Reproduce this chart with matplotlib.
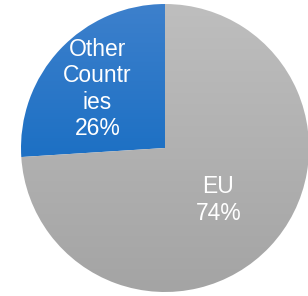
import numpy as np
import matplotlib.pyplot as plt
from matplotlib.colors import LinearSegmentedColormap

plt.rcParams['font.family'] = ['Liberation Sans', 'DejaVu Sans']

labels = ['Other\nCountr\nies', 'EU']
shares = [26, 74]
label_pos = [(-0.47, 0.41), (0.37, -0.36)]
grad_colors = [('#0062bd', '#3d80cc'), ('#a4a4a4', '#bebebe')]

W, H = 308, 296
fig = plt.figure(figsize=(W / 100, H / 100), dpi=100)

# circle centre (165, 148) px, radius 144 px
cx, cy, r = 165, 148, 144
ax = fig.add_axes([(cx - r) / W, (H - cy - r) / H, 2 * r / W, 2 * r / H])
ax.set_xlim(-1, 1)
ax.set_ylim(-1, 1)
ax.axis('off')

wedges, _ = ax.pie(shares, startangle=90, counterclock=True, radius=1,
                   center=(0, 0), frame=True,
                   wedgeprops=dict(linewidth=0, alpha=0))

# vertical gradient inside each wedge
grad = np.linspace(0, 1, 256).reshape(-1, 1)
for w, (c0, c1) in zip(wedges, grad_colors):
    cmap = LinearSegmentedColormap.from_list('g', [c0, c1])
    im = ax.imshow(grad, cmap=cmap, extent=(-1, 1, -1, 1), origin='lower',
                   aspect='auto', interpolation='bilinear', zorder=1)
    im.set_clip_path(w)

for lab, s, (x, y) in zip(labels, shares, label_pos):
    ax.text(x, y, f'{lab}\n{s}%', ha='center', va='center', color='white',
            fontsize=16.5, linespacing=1.2, zorder=3)

ax.set_xlim(-1, 1)
ax.set_ylim(-1, 1)
ax.set_aspect('auto')
fig.savefig('out.png', dpi=100)
